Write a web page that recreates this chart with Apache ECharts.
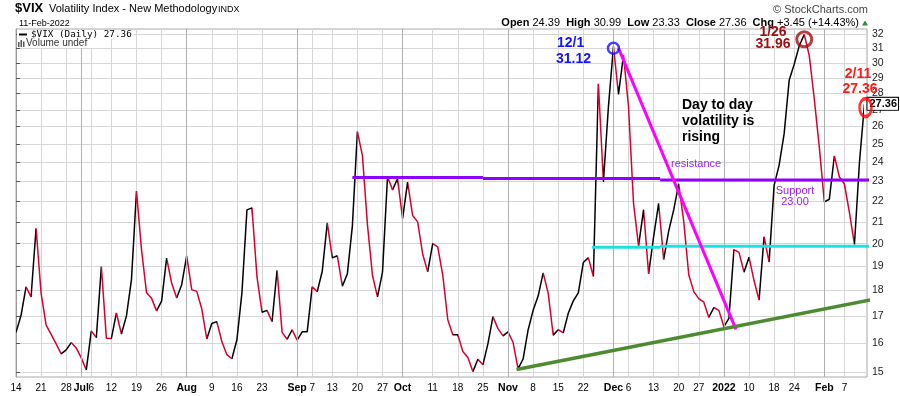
<!DOCTYPE html>
<html><head><meta charset="utf-8">
<script src="https://cdn.jsdelivr.net/npm/echarts@6/dist/echarts.min.js"></script>
<style>html,body{margin:0;padding:0;background:#fff}#c{width:900px;height:396px}</style>
</head><body><div id="c"></div>
<script>
// ---- trading days (categories) ----
const dates = [
'2021-06-14','2021-06-15','2021-06-16','2021-06-17','2021-06-18','2021-06-21','2021-06-22','2021-06-23','2021-06-24','2021-06-25','2021-06-28','2021-06-29','2021-06-30',
'2021-07-01','2021-07-02','2021-07-06','2021-07-07','2021-07-08','2021-07-09','2021-07-12','2021-07-13','2021-07-14','2021-07-15','2021-07-16','2021-07-19','2021-07-20','2021-07-21','2021-07-22','2021-07-23','2021-07-26','2021-07-27','2021-07-28','2021-07-29','2021-07-30',
'2021-08-02','2021-08-03','2021-08-04','2021-08-05','2021-08-06','2021-08-09','2021-08-10','2021-08-11','2021-08-12','2021-08-13','2021-08-16','2021-08-17','2021-08-18','2021-08-19','2021-08-20','2021-08-23','2021-08-24','2021-08-25','2021-08-26','2021-08-27','2021-08-30','2021-08-31',
'2021-09-01','2021-09-02','2021-09-03','2021-09-07','2021-09-08','2021-09-09','2021-09-10','2021-09-13','2021-09-14','2021-09-15','2021-09-16','2021-09-17','2021-09-20','2021-09-21','2021-09-22','2021-09-23','2021-09-24','2021-09-27','2021-09-28','2021-09-29','2021-09-30',
'2021-10-01','2021-10-04','2021-10-05','2021-10-06','2021-10-07','2021-10-08','2021-10-11','2021-10-12','2021-10-13','2021-10-14','2021-10-15','2021-10-18','2021-10-19','2021-10-20','2021-10-21','2021-10-22','2021-10-25','2021-10-26','2021-10-27','2021-10-28','2021-10-29',
'2021-11-01','2021-11-02','2021-11-03','2021-11-04','2021-11-05','2021-11-08','2021-11-09','2021-11-10','2021-11-11','2021-11-12','2021-11-15','2021-11-16','2021-11-17','2021-11-18','2021-11-19','2021-11-22','2021-11-23','2021-11-24','2021-11-26','2021-11-29','2021-11-30',
'2021-12-01','2021-12-02','2021-12-03','2021-12-06','2021-12-07','2021-12-08','2021-12-09','2021-12-10','2021-12-13','2021-12-14','2021-12-15','2021-12-16','2021-12-17','2021-12-20','2021-12-21','2021-12-22','2021-12-23','2021-12-27','2021-12-28','2021-12-29','2021-12-30','2021-12-31',
'2022-01-03','2022-01-04','2022-01-05','2022-01-06','2022-01-07','2022-01-10','2022-01-11','2022-01-12','2022-01-13','2022-01-14','2022-01-18','2022-01-19','2022-01-20','2022-01-21','2022-01-24','2022-01-25','2022-01-26','2022-01-27','2022-01-28','2022-01-31',
'2022-02-01','2022-02-02','2022-02-03','2022-02-04','2022-02-07','2022-02-08','2022-02-09','2022-02-10','2022-02-11'
];
// ---- $VIX daily close ----
const vix = [
16.39,17.02,18.15,17.75,20.70,17.89,16.66,16.32,15.97,15.62,15.76,16.02,15.83,
15.48,15.07,16.44,16.20,19.00,16.18,16.17,17.12,16.33,17.01,18.45,22.50,19.73,17.91,17.69,17.20,17.58,19.36,18.31,17.70,18.24,
19.46,18.04,17.97,17.28,16.15,16.72,16.79,16.06,15.59,15.45,16.12,17.91,21.57,21.67,18.56,17.15,17.22,16.79,18.84,16.39,16.14,16.48,
16.11,16.41,16.41,18.15,17.96,18.80,20.95,19.37,19.46,18.18,18.69,20.81,25.71,24.36,20.87,18.63,17.75,18.76,23.25,22.56,23.14,
21.15,22.96,21.30,21.00,19.54,18.77,20.00,19.85,18.64,16.86,16.30,16.30,15.70,15.49,15.01,15.43,15.24,15.98,16.98,16.53,16.26,
16.41,16.03,15.10,15.44,16.48,17.22,17.78,18.73,17.90,16.29,16.49,16.37,17.11,17.59,17.91,19.17,19.38,18.58,28.62,22.96,27.19,
31.12,27.95,30.50,27.18,21.89,19.90,21.58,18.69,20.31,21.89,19.29,20.57,21.57,22.87,21.01,18.65,17.96,17.68,17.54,16.95,17.33,17.22,
16.60,16.91,19.73,19.61,18.76,19.40,18.41,17.62,20.31,19.19,22.79,23.85,25.59,28.85,29.90,31.16,31.96,30.49,27.66,24.83,
21.96,22.09,24.35,23.22,22.86,21.44,19.96,24.00,27.36
];
// ---- axis tick labels ----
const tickDates = ['2021-06-14','2021-06-21','2021-06-28','2021-07-01','2021-07-06','2021-07-12','2021-07-19','2021-07-26','2021-08-02','2021-08-09','2021-08-16','2021-08-23','2021-09-01','2021-09-07','2021-09-13','2021-09-20','2021-09-27','2021-10-01','2021-10-11','2021-10-18','2021-10-25','2021-11-01','2021-11-08','2021-11-15','2021-11-22','2021-12-01','2021-12-06','2021-12-13','2021-12-20','2021-12-27','2022-01-03','2022-01-10','2022-01-18','2022-01-24','2022-02-01','2022-02-07'];
const tickLabels = ['14','21','28','Jul','6','12','19','26','Aug','9','16','23','Sep','7','13','20','27','Oct','11','18','25','Nov','8','15','22','Dec','6','13','20','27','2022','10','18','24','Feb','7'];
const yTicks = [15,16,17,18,19,20,21,22,23,24,25,26,27,28,29,30,31,32];
// ---- hand-drawn annotations, in data space [trading-day index, VIX level] ----
const resistanceSegs = [[[67,23.2],[93,23.2]],[[93,23.14],[128.3,23.14]],[[128.3,23.07],[170,23.07]]];
const supportSegs = [[[114.7,19.84],[128.3,19.84]],[[128.3,19.88],[170,19.88]]];
const downTrend = [[120.0,31.0],[143.4,16.5]];
const upTrend = [[99.7,15.08],[173.1,17.74]];
const circleDec1 = [119,31.0];
const circleJan26 = [157,31.62];
const circleFeb11 = [169.2,27.13];

const L = Math.log;
const FONT = 'Liberation Sans';
const tickIdx = tickDates.map(d => dates.indexOf(d));
const isMonth = tickLabels.map(t => !/^\d{1,2}$/.test(t));
const monthIdx = tickIdx.filter((v,k) => isMonth[k]);
const yLog = yTicks.map(L);
const X_MIN = 0, X_MAX = 169.5, Y_MIN = L(14.83), Y_MAX = L(32.36);

// direction colouring pieces (black = up day, red = down day)
const pieces = [];
for (let i = 0; i < vix.length - 1; i++) {
  const c = vix[i+1] >= vix[i] ? '#000000' : '#d8002e';
  const last = pieces[pieces.length-1];
  if (last && last.color === c) { last.lt = i+1; }
  else pieces.push({gte: i, lt: i+1, color: c});
}
const lp = pieces[pieces.length-1]; lp.lte = lp.lt; delete lp.lt;

function seg(points, color, width) {
  return {type:'line', data: points.map(p => [p[0], L(p[1])]), symbol:'none', silent:true, clip:false,
    lineStyle:{color, width, cap:'butt'}, z:5, animation:false};
}
function ring(p, color, size, bw) {
  return {type:'scatter', data:[[p[0], L(p[1])]], symbol:'circle', symbolSize:size, silent:true, clip:false,
    itemStyle:{color:'rgba(0,0,0,0)', borderColor:color, borderWidth:bw}, z:6, animation:false};
}

const series = [
  {type:'line', name:'$VIX', data: vix.map((v,i) => [i, L(v)]), symbol:'none', showSymbol:false,
   lineStyle:{width:1.5}, z:4, animation:false, silent:true,
   endLabel:{show:true, formatter: vix[vix.length-1].toFixed(2), color:'#000', fontWeight:'bold', fontSize:11,
     fontFamily:FONT, backgroundColor:'#fff', borderColor:'#000', borderWidth:1, padding:[1,1,0,2], distance:3}},
  // month-start grid lines (darker), drawn under the price line
  {type:'line', data:[[0, Y_MIN]], symbol:'none', silent:true, z:1, animation:false, lineStyle:{opacity:0},
   markLine:{silent:true, symbol:['none','none'], animation:false, label:{show:false},
     lineStyle:{color:'#b0b0b0', width:1, type:'solid'}, emphasis:{disabled:true},
     data: monthIdx.map(i => ({xAxis:i}))}}
];
resistanceSegs.forEach(s => series.push(seg(s, '#9000ff', 3)));
supportSegs.forEach(s => series.push(seg(s, '#1fe0e0', 3)));
series.push(seg(downTrend, '#ff00ff', 3));
series.push(seg(upTrend, '#4d8b31', 3.5));
series.push(ring(circleDec1, '#1414ff', [11,11], 2.5));
series.push(ring(circleJan26, '#a00f0f', [15,15], 3));
series.push(ring(circleFeb11, '#ff0000', [12,18], 3));

const hiddenBits = {axisLine:{show:false}, axisLabel:{show:false}};
const lightGrid = {color:'#d6d6d6', width:1, type:'solid'};

const chart = echarts.init(document.getElementById('c'), null, {renderer:'canvas'});
chart.setOption({
  animation:false,
  backgroundColor:'#fff',
  textStyle:{fontFamily:FONT},
  grid:{left:16, right:33, top:29, bottom:19, show:true, borderColor:'#a8a8a8', borderWidth:1},
  xAxis:[
    {type:'value', min:X_MIN, max:X_MAX, position:'bottom',
     axisLine:{show:false}, axisTick:{show:false},
     axisLabel:{customValues:tickIdx, fontSize:10, color:'#000', margin:6, fontFamily:FONT,
       formatter: v => { const k = tickIdx.indexOf(Math.round(v)); if (k < 0) return ''; return isMonth[k] ? '{b|' + tickLabels[k] + '}' : tickLabels[k]; },
       rich:{b:{fontWeight:'bold', fontSize:10.5, color:'#000', fontFamily:FONT}}},
     splitLine:{show:false}},
    Object.assign({type:'value', min:X_MIN, max:X_MAX, position:'top', axisTick:{show:false, customValues:tickIdx},
     splitLine:{show:true, lineStyle:lightGrid}}, hiddenBits)
  ],
  yAxis:[
    {type:'value', position:'right', min:Y_MIN, max:Y_MAX,
     axisLine:{show:true, lineStyle:{color:'#9a9a9a'}},
     axisTick:{show:true, customValues:yLog, length:4, lineStyle:{color:'#555'}},
     axisLabel:{customValues:yLog, formatter: v => String(Math.round(Math.exp(v))), fontSize:10.5, color:'#222', margin:5, fontFamily:FONT},
     splitLine:{show:false}},
    Object.assign({type:'value', position:'left', min:Y_MIN, max:Y_MAX, axisTick:{show:false, customValues:yLog},
     splitLine:{show:true, lineStyle:lightGrid}}, hiddenBits)
  ],
  visualMap:{type:'piecewise', show:false, dimension:0, seriesIndex:0, pieces},
  series,
  graphic:[
    {type:'text', left:15, top:2, style:{text:'$VIX', font:'bold 13px "Liberation Sans"', fill:'#000'}},
    {type:'text', left:49, top:3, style:{text:'Volatility Index - New Methodology', font:'11px "Liberation Sans"', fill:'#000'}},
    {type:'text', left:218, top:5, style:{text:'INDX', font:'9px "Liberation Sans"', fill:'#000'}},
    {type:'text', left:19, top:19, style:{text:'11-Feb-2022', font:'9px "Liberation Sans"', fill:'#000'}},
    {type:'text', x:868, y:9.5, style:{text:'\u00a9 StockCharts.com', font:'11px "Liberation Sans"', fill:'#444', align:'right', verticalAlign:'middle'}},
    {type:'text', x:859, y:22.5, style:{text:'{b|Open} 24.39  {b|High} 30.99  {b|Low} 23.33  {b|Close} 27.36  {b|Chg} +3.45 (+14.43%)',
      font:'11px "Liberation Sans"', fill:'#000', align:'right', verticalAlign:'middle',
      rich:{b:{fontWeight:'bold', fontSize:11, fontFamily:FONT, fill:'#000'}}}},
    {type:'polygon', shape:{points:[[862,25.5],[868,25.5],[865,20.5]]}, style:{fill:'#2e8b3a'}},
    // legend inside plot
    {type:'rect', shape:{x:17, y:30, width:117, height:9}, style:{fill:'#fff'}, z:10},
    {type:'rect', shape:{x:17, y:39, width:79, height:9}, style:{fill:'#fff'}, z:10},
    {type:'rect', shape:{x:19, y:33.5, width:8, height:2}, style:{fill:'#000'}, z:11},
    {type:'text', x:31, y:35, z:11, style:{text:'$VIX (Daily) 27.36', font:'9.3px "DejaVu Sans Mono"', fill:'#000', verticalAlign:'middle'}},
    {type:'rect', shape:{x:18, y:42, width:1.5, height:5}, style:{fill:'#555'}, z:11},
    {type:'rect', shape:{x:20.5, y:40, width:1.5, height:7}, style:{fill:'#555'}, z:11},
    {type:'rect', shape:{x:23, y:41.5, width:1.5, height:5.5}, style:{fill:'#555'}, z:11},
    {type:'text', x:26, y:43.5, z:11, style:{text:'Volume undef', font:'10px "Liberation Sans"', fill:'#333', verticalAlign:'middle'}},
    // annotations text
    {type:'text', x:557, y:43.5, z:12, style:{text:'12/1', font:'bold 14px "Liberation Sans"', fill:'#1414ff', verticalAlign:'middle'}},
    {type:'text', x:556, y:59, z:12, style:{text:'31.12', font:'bold 14px "Liberation Sans"', fill:'#1414ff', verticalAlign:'middle'}},
    {type:'text', x:773, y:32, z:12, style:{text:'1/26', font:'bold 14px "Liberation Sans"', fill:'#a00f0f', align:'center', verticalAlign:'middle'}},
    {type:'text', x:773, y:44.5, z:12, style:{text:'31.96', font:'bold 14px "Liberation Sans"', fill:'#a00f0f', align:'center', verticalAlign:'middle'}},
    {type:'text', x:858, y:74, z:12, style:{text:'2/11', font:'bold 14px "Liberation Sans"', fill:'#ff1a1a', align:'center', verticalAlign:'middle'}},
    {type:'text', x:860, y:89, z:12, style:{text:'27.36', font:'bold 14px "Liberation Sans"', fill:'#ff1a1a', align:'center', verticalAlign:'middle'}},
    {type:'text', x:682, y:97, z:12, style:{text:'Day to day\nvolatility is\nrising', font:'bold 14px "Liberation Sans"', lineHeight:16, fill:'#000', verticalAlign:'top'}},
    {type:'text', x:671, y:163.5, z:12, style:{text:'resistance', font:'11px "Liberation Sans"', fill:'#9a22ee', verticalAlign:'middle'}},
    {type:'text', x:795, y:191, z:12, style:{text:'Support', font:'11px "Liberation Sans"', fill:'#9a22ee', align:'center', verticalAlign:'middle'}},
    {type:'text', x:795, y:202, z:12, style:{text:'23.00', font:'11px "Liberation Sans"', fill:'#9a22ee', align:'center', verticalAlign:'middle'}}
  ]
});
</script>
</body></html>
